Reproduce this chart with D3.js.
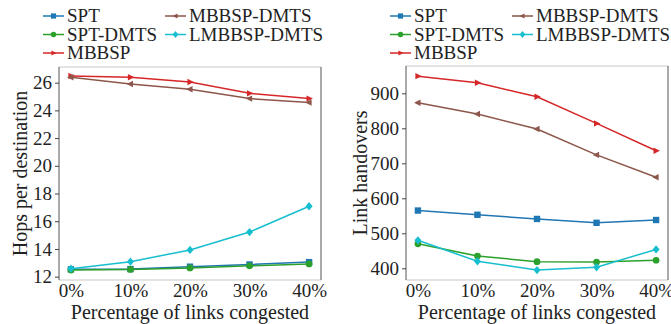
<!DOCTYPE html>
<html>
<head>
<meta charset="utf-8">
<script src="https://cdn.jsdelivr.net/npm/d3@7"></script>
<style>
  body { margin: 0; background: #fff; }
  svg text { font-family: 'Liberation Serif', 'DejaVu Serif', serif !important; fill: #222; }
</style>
</head>
<body>
<div id="chart"></div>
<script>
// x categories shared by both panels
const congestion = ['0%', '10%', '20%', '30%', '40%'];

const seriesNames = ['SPT', 'SPT-DMTS', 'MBBSP', 'MBBSP-DMTS', 'LMBBSP-DMTS'];
const seriesColors = ['#1f77b4', '#2ca02c', '#d62728', '#8c564b', '#17becf'];
const seriesMarkers = ['square', 'circle', 'triRight', 'triLeft', 'diamond'];

// left panel: hops per destination
const hopsSPT = [12.53, 12.55, 12.72, 12.88, 13.05];
const hopsSPTDMTS = [12.48, 12.52, 12.63, 12.78, 12.92];
const hopsMBBSP = [26.48, 26.39, 26.05, 25.23, 24.85];
const hopsMBBSPDMTS = [26.39, 25.9, 25.52, 24.85, 24.56];
const hopsLMBBSPDMTS = [12.58, 13.08, 13.93, 15.22, 17.08];
const hopsTicks = [12, 14, 16, 18, 20, 22, 24, 26];

// right panel: link handovers
const hoSPT = [565, 553, 541, 530, 538];
const hoSPTDMTS = [470, 435, 419, 418, 423];
const hoMBBSP = [949, 930, 890, 814, 736];
const hoMBBSPDMTS = [873, 841, 798, 724, 660];
const hoLMBBSPDMTS = [480, 420, 395, 403, 454];
const hoTicks = [400, 500, 600, 700, 800, 900];

const width = 671, height = 324;
const serif = "'Liberation Serif', 'DejaVu Serif', serif";

const svg = d3.select('#chart').append('svg')
  .attr('width', width)
  .attr('height', height)
  .attr('font-family', serif);

function markerPath(kind, size) {
  const s = size;
  switch (kind) {
    case 'square': return `M${-s},${-s}H${s}V${s}H${-s}Z`;
    case 'circle': return d3.symbol(d3.symbolCircle, Math.PI * s * s * 1.1)();
    case 'triRight': return `M${s * 1.2},0L${-s * 0.8},${-s}L${-s * 0.8},${s}Z`;
    case 'triLeft': return `M${-s * 1.2},0L${s * 0.8},${-s}L${s * 0.8},${s}Z`;
    case 'diamond': return `M0,${-s * 1.3}L${s * 1.1},0L0,${s * 1.3}L${-s * 1.1},0Z`;
  }
}

function drawPanel(opts) {
  const {left, right, top, bottom, series, yDomain, yTicks, yTitle, yTitleX, legendX, legendCol2X} = opts;

  const x = d3.scaleLinear().domain([-0.2, congestion.length - 1 + 0.2]).range([left, right]);
  const y = d3.scaleLinear().domain(yDomain).range([bottom, top]);

  const g = svg.append('g');

  // frame: light top/bottom, darker sides
  g.append('line').attr('x1', left).attr('x2', right).attr('y1', top).attr('y2', top)
    .attr('stroke', '#c8c8c8').attr('stroke-width', 1);
  g.append('line').attr('x1', left).attr('x2', right).attr('y1', bottom).attr('y2', bottom)
    .attr('stroke', '#c8c8c8').attr('stroke-width', 1);
  g.append('line').attr('x1', left).attr('x2', left).attr('y1', top).attr('y2', bottom)
    .attr('stroke', '#555').attr('stroke-width', 1);
  g.append('line').attr('x1', right).attr('x2', right).attr('y1', top).attr('y2', bottom)
    .attr('stroke', '#555').attr('stroke-width', 1);

  // y axis
  const yAxis = g.append('g')
    .attr('transform', `translate(${left},0)`)
    .call(d3.axisLeft(y).tickValues(yTicks).tickSize(4).tickPadding(3));
  yAxis.attr('font-family', serif);
  yAxis.select('.domain').remove();
  yAxis.selectAll('line').attr('stroke', '#444');
  yAxis.selectAll('text').attr('font-size', 19).attr('fill', '#222');

  // x axis
  const xAxis = g.append('g')
    .attr('transform', `translate(0,${bottom})`)
    .call(d3.axisBottom(x).tickValues(d3.range(congestion.length))
      .tickFormat(i => congestion[i]).tickSize(0).tickPadding(4));
  xAxis.attr('font-family', serif);
  xAxis.select('.domain').remove();
  xAxis.selectAll('text').attr('font-size', 19).attr('fill', '#222');

  g.append('text')
    .attr('x', (left + right) / 2).attr('y', 319)
    .attr('text-anchor', 'middle').attr('font-size', 20)
    .text('Percentage of links congested');

  g.append('text')
    .attr('transform', `translate(${yTitleX},${(top + bottom) / 2}) rotate(-90)`)
    .attr('text-anchor', 'middle').attr('font-size', 20)
    .text(yTitle);

  const line = d3.line().x((d, i) => x(i)).y(d => y(d));

  series.forEach((vals, k) => {
    g.append('path')
      .attr('d', line(vals))
      .attr('fill', 'none')
      .attr('stroke', seriesColors[k])
      .attr('stroke-width', 1.5);
    g.selectAll(null).data(vals).enter().append('path')
      .attr('transform', (d, i) => `translate(${x(i)},${y(d)})`)
      .attr('d', markerPath(seriesMarkers[k], 3.2))
      .attr('fill', seriesColors[k]);
  });

  // legend: order SPT, MBBSP-DMTS / SPT-DMTS, LMBBSP-DMTS / MBBSP
  const legendOrder = [[0, 0, 0], [3, 1, 0], [1, 0, 1], [4, 1, 1], [2, 0, 2]];
  legendOrder.forEach(([k, col, row]) => {
    const lx = col === 0 ? legendX : legendCol2X;
    const ly = 16 + row * 18.5;
    g.append('line')
      .attr('x1', lx).attr('x2', lx + 21).attr('y1', ly).attr('y2', ly)
      .attr('stroke', seriesColors[k]).attr('stroke-width', 1.5);
    g.append('path')
      .attr('transform', `translate(${lx + 10.5},${ly})`)
      .attr('d', markerPath(seriesMarkers[k], 2.6))
      .attr('fill', seriesColors[k]);
    g.append('text')
      .attr('x', lx + 24).attr('y', ly + 6)
      .attr('font-size', 19)
      .text(seriesNames[k]);
  });
}

drawPanel({
  left: 59, right: 321, top: 67, bottom: 280,
  series: [hopsSPT, hopsSPTDMTS, hopsMBBSP, hopsMBBSPDMTS, hopsLMBBSPDMTS],
  yDomain: [11.76, 27.13], yTicks: hopsTicks,
  yTitle: 'Hops per destination', yTitleX: 27,
  legendX: 43, legendCol2X: 165
});

drawPanel({
  left: 406, right: 668, top: 66, bottom: 280,
  series: [hoSPT, hoSPTDMTS, hoMBBSP, hoMBBSPDMTS, hoLMBBSPDMTS],
  yDomain: [366.6, 978], yTicks: hoTicks,
  yTitle: 'Link handovers', yTitleX: 367,
  legendX: 390, legendCol2X: 512
});
</script>
</body>
</html>
